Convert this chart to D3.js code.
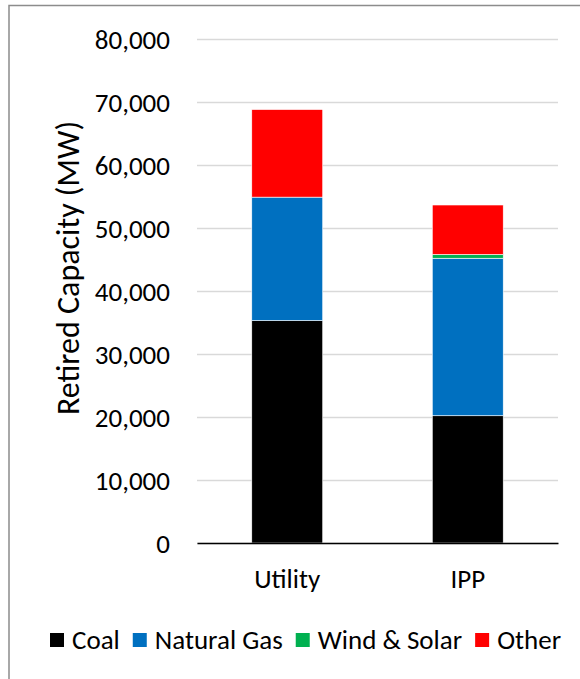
<!DOCTYPE html>
<html>
<head>
<meta charset="utf-8">
<script src="https://cdn.jsdelivr.net/npm/d3@7"></script>
<style>
  body { margin: 0; background: #fff; }
  svg text { font-family: Carlito, Calibri, Lato, sans-serif; fill: #000; }
</style>
</head>
<body>
<div id="chart"></div>
<script>
// data
const categories = ["Utility", "IPP"];
const seriesNames = ["Coal", "Natural Gas", "Wind & Solar", "Other"];
const coal = [35300, 20200];
const naturalGas = [19600, 25000];
const windSolar = [0, 600];
const other = [13900, 7850];
const yTicks = [0, 10000, 20000, 30000, 40000, 50000, 60000, 70000, 80000];
const colors = ["#000000", "#0070c0", "#00b050", "#ff0000"];

const W = 580, H = 679;
const margin = { top: 39, right: 22, bottom: 136, left: 197 };
const width = W - margin.left - margin.right;
const height = H - margin.top - margin.bottom;

const rows = categories.map((c, i) => ({
  cat: c,
  "Coal": coal[i],
  "Natural Gas": naturalGas[i],
  "Wind & Solar": windSolar[i],
  "Other": other[i]
}));

const svg = d3.select("#chart").append("svg")
  .attr("width", W)
  .attr("height", H);

// outer frame
svg.append("rect")
  .attr("x", 9).attr("y", 5.5)
  .attr("width", W).attr("height", H)
  .attr("fill", "none")
  .attr("stroke", "#8c8c8c")
  .attr("stroke-width", 1.5);

const g = svg.append("g")
  .attr("transform", `translate(${margin.left},${margin.top})`);

const x = d3.scaleBand()
  .domain(categories)
  .range([0, width])
  .paddingInner(0.607)
  .paddingOuter(0.3035);

const y = d3.scaleLinear()
  .domain([0, 80000])
  .range([height, 0]);

// grid
g.append("g")
  .call(d3.axisLeft(y).tickValues(yTicks).tickSize(-width).tickFormat(""))
  .call(s => s.select(".domain").remove())
  .call(s => s.selectAll("line").attr("stroke", "#d9d9d9").attr("stroke-width", 1.3));

// y labels
g.append("g")
  .call(d3.axisLeft(y).tickValues(yTicks).tickSize(0).tickPadding(27).tickFormat(d3.format(",")))
  .call(s => s.select(".domain").remove())
  .call(s => s.selectAll("text").style("font-size", "27px").attr("dy", "0.35em"));

// stacked bars
const stack = d3.stack().keys(seriesNames);
const layers = stack(rows);

g.selectAll(".layer")
  .data(layers)
  .enter().append("g")
  .attr("class", "layer")
  .attr("fill", (d, i) => colors[i])
  .selectAll("rect")
  .data(d => d)
  .enter().append("rect")
  .attr("x", d => x(d.data.cat))
  .attr("width", x.bandwidth())
  .attr("y", d => y(d[1]))
  .attr("height", d => y(d[0]) - y(d[1]))
  .attr("stroke", "#fff")
  .attr("stroke-width", 0.6);

// baseline
g.append("g")
  .attr("transform", `translate(0,${height})`)
  .call(d3.axisBottom(x).tickSize(0).tickPadding(26))
  .call(s => s.select(".domain").attr("stroke", "#000").attr("stroke-width", 1.5))
  .call(s => s.selectAll("text").style("font-size", "27px").attr("dy", "0.71em"));

// y title
svg.append("text")
  .attr("transform", "rotate(-90)")
  .attr("x", -268)
  .attr("y", 79)
  .attr("text-anchor", "middle")
  .style("font-size", "32px")
  .text("Retired Capacity (MW)");

// legend
const legend = svg.append("g").attr("transform", "translate(50,633)");
let lx = 0;
seriesNames.forEach((name, i) => {
  const item = legend.append("g").attr("transform", `translate(${lx},0)`);
  item.append("rect")
    .attr("width", 14).attr("height", 14)
    .attr("fill", colors[i]);
  const t = item.append("text")
    .attr("x", 22).attr("y", 16)
    .style("font-size", "27px")
    .text(name);
  lx += 22 + t.node().getComputedTextLength() + 13;
});
</script>
</body>
</html>
